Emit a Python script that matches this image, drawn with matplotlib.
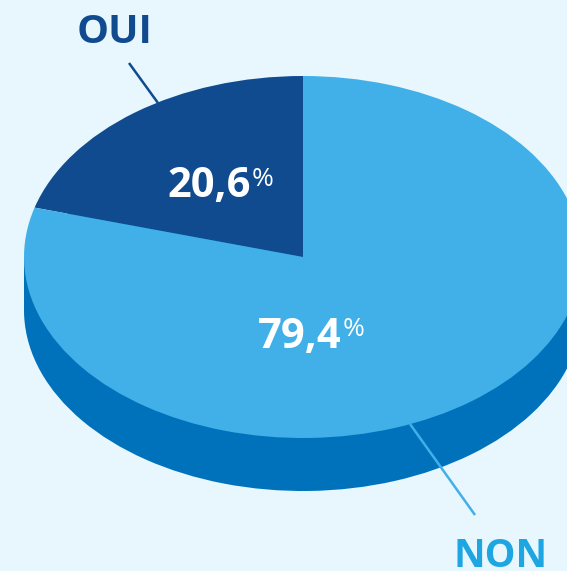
import matplotlib
matplotlib.use("Agg")
import matplotlib.pyplot as plt
from matplotlib.patches import Rectangle

categories = ["OUI", "NON"]
values = [20.6, 79.4]
value_labels = ["20,6", "79,4"]
top_colors = ["#114B8F", "#41B0E8"]
side_color = "#0072BC"
bg = "#E8F7FE"

W, H = 567, 571
cx, cy, rx, ry, depth = 303, 257, 279, 181, 53

fig = plt.figure(figsize=(W/100, H/100), dpi=100, facecolor=bg)
ax = fig.add_axes([0, 0, 1, 1])
ax.set_facecolor(bg)

d = depth / ry
ax.pie(values, colors=[side_color]*2, startangle=90, counterclock=True, radius=1,
       center=(0, -d), wedgeprops=dict(linewidth=0))
ax.add_patch(Rectangle((-1, -d), 2, d, facecolor=side_color, linewidth=0))
ax.pie(values, colors=top_colors, startangle=90, counterclock=True, radius=1,
       center=(0, 0), wedgeprops=dict(linewidth=0))

ax.set_aspect("auto")
ax.set_xlim(-cx/rx, (W-cx)/rx)
ax.set_ylim(-(H-cy)/ry, cy/ry)
ax.axis("off")

def px(x, y):
    return (x-cx)/rx, (cy-y)/ry

ax.plot(*zip(px(129, 63), px(158, 103)), color=top_colors[0], lw=1.8, solid_capstyle="butt")
ax.plot(*zip(px(410, 424), px(475, 515)), color=top_colors[1], lw=1.8, solid_capstyle="butt")

bold = dict(family="Open Sans", fontweight="bold", va="baseline")
reg = dict(family="Open Sans", fontweight="normal", va="baseline", ha="left")
ax.text(*px(114.5, 43), categories[0], color=top_colors[0], fontsize=29, ha="center", **bold)
ax.text(*px(501, 567), categories[1], color="#1DA6E2", fontsize=28, ha="center", **bold)

ax.text(*px(209, 197), value_labels[0], color="white", fontsize=30, ha="center", **bold)
ax.text(*px(252, 186), "%", color="white", fontsize=19, **reg)
ax.text(*px(300, 348), value_labels[1], color="white", fontsize=30, ha="center", **bold)
ax.text(*px(343, 336), "%", color="white", fontsize=19, **reg)

fig.savefig("out.png", dpi=100, facecolor=bg)
